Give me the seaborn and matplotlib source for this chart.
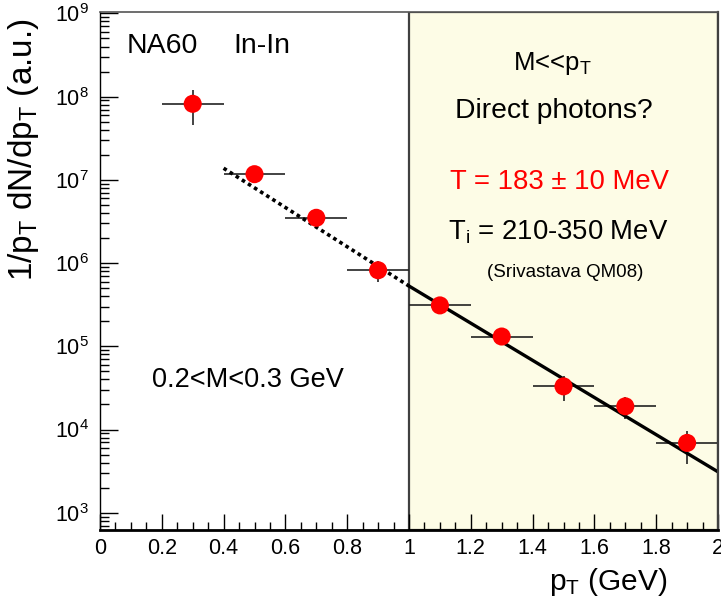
import numpy as np
import pandas as pd
import matplotlib
matplotlib.use("Agg")
import matplotlib.pyplot as plt
import matplotlib.ticker as mticker
import seaborn as sns

# pT spectrum, 0.2 < M < 0.3 GeV
pt = [0.3, 0.5, 0.7, 0.9, 1.1, 1.3, 1.5, 1.7, 1.9]
pt_halfwidth = [0.1, 0.1, 0.1, 0.1, 0.1, 0.1, 0.1, 0.1, 0.1]
yield_ = [8.2e7, 1.17e7, 3.5e6, 8.2e5, 3.1e5, 1.31e5, 3.3e4, 1.9e4, 6.9e3]
err_lo = [3.6e7, 1.5e6, 4.0e5, 2.3e5, 4.0e4, 2.0e4, 1.1e4, 5.5e3, 3.1e3]
err_hi = [3.8e7, 1.5e6, 4.0e5, 2.3e5, 4.0e4, 2.0e4, 1.1e4, 5.5e3, 2.8e3]

# exponential fit (extrapolated part dotted)
fit_solid_pt = [1.0, 2.0]
fit_solid_y = [5.3e5, 3.1e3]
fit_dot_pt = [0.4, 1.0]
fit_dot_y = [1.38e7, 5.3e5]

xticks = [0, 0.2, 0.4, 0.6, 0.8, 1, 1.2, 1.4, 1.6, 1.8, 2]
xtick_labels = ["0", "0.2", "0.4", "0.6", "0.8", "1", "1.2", "1.4", "1.6", "1.8", "2"]
yticks = [1e3, 1e4, 1e5, 1e6, 1e7, 1e8, 1e9]
ytick_labels = ["$10^{3}$", "$10^{4}$", "$10^{5}$", "$10^{6}$", "$10^{7}$",
                "$10^{8}$", "$10^{9}$"]

sns.set_style("white")
plt.rcParams["font.family"] = ["Liberation Sans", "DejaVu Sans"]
plt.rcParams["mathtext.default"] = "regular"
plt.rcParams["text.color"] = "black"

W, H = 721, 601
fig = plt.figure(figsize=(W / 100, H / 100), dpi=100)
ax = fig.add_axes([100 / W, 1 - 530 / H, 618 / W, 518 / H])


def fpos(x, y):
    return x / W, 1 - y / H


df = pd.DataFrame({"pt": pt, "y": yield_})

# shaded high-pT region
ax.axvspan(1.0, 2.0, facecolor="#fdfce6", edgecolor="#404040", lw=1.6, zorder=0)

ax.errorbar(pt, yield_, xerr=pt_halfwidth, yerr=[err_lo, err_hi], fmt="none",
            ecolor="#222222", elinewidth=1.2, capsize=0, zorder=2)

sns.lineplot(x=fit_solid_pt, y=fit_solid_y, ax=ax, color="black", lw=2.4, zorder=3)
sns.lineplot(x=fit_dot_pt, y=fit_dot_y, ax=ax, color="black", lw=2.6,
             linestyle=(0, (1, 1)), zorder=3)

sns.scatterplot(data=df, x="pt", y="y", ax=ax, color="#ff0000", s=13 ** 2,
                edgecolor="none", zorder=4, legend=False)

ax.set_yscale("log")
ax.set_xlim(0, 2)
ax.set_ylim(620, 1.04e9)
ax.set_xlabel("")
ax.set_ylabel("")
ax.xaxis.label.set_visible(False)
ax.yaxis.label.set_visible(False)

ax.set_xticks(xticks)
ax.set_xticklabels(xtick_labels)
ax.xaxis.set_minor_locator(mticker.MultipleLocator(0.05))
ax.set_yticks(yticks)
ax.set_yticklabels(ytick_labels)
minor_y = [m * 10.0 ** e for e in range(2, 9) for m in range(2, 10)
           if 620 < m * 10.0 ** e < 1.04e9]
ax.yaxis.set_minor_locator(mticker.FixedLocator(minor_y))
ax.yaxis.set_minor_formatter(mticker.NullFormatter())

ax.tick_params(axis="both", which="both", direction="in", colors="black",
               bottom=True, left=True, top=False, right=False)
ax.tick_params(axis="y", which="major", length=13, width=1.0, labelsize=15.5, pad=8)
ax.tick_params(axis="y", which="minor", length=6.5, width=1.0)
ax.tick_params(axis="x", which="major", length=11.5, width=1.0, labelsize=15.5, pad=6)
ax.tick_params(axis="x", which="minor", length=6, width=1.0)

ax.spines["left"].set_linewidth(1.0)
ax.spines["left"].set_color("black")
ax.spines["bottom"].set_linewidth(2.0)
ax.spines["bottom"].set_color("black")
ax.spines["top"].set_linewidth(1.2)
ax.spines["top"].set_color("#555555")
ax.spines["right"].set_linewidth(1.6)
ax.spines["right"].set_color("#404040")
for s in ax.spines.values():
    s.set_zorder(5)

# axis titles (ROOT style, aligned to the axis end)
fig.text(*fpos(24, 18), "1/$p_T$ dN/d$p_T$ (a.u.)", rotation=90,
         ha="center", va="top", fontsize=24)
fig.text(*fpos(668, 590), "$p_T$ (GeV)", ha="right", va="baseline", fontsize=21.5)

# annotations
fig.text(*fpos(127, 53), "NA60", ha="left", va="baseline", fontsize=20.5)
fig.text(*fpos(233, 53), "In-In", ha="left", va="baseline", fontsize=20.5)
fig.text(*fpos(152, 387), "0.2<M<0.3 GeV", ha="left", va="baseline", fontsize=19.5)
fig.text(*fpos(552, 70), "M<<$p_T$", ha="center", va="baseline", fontsize=18.5)
fig.text(*fpos(554, 118), "Direct photons?", ha="center", va="baseline", fontsize=20.3)
fig.text(*fpos(559, 189), "T = 183 ± 10 MeV", ha="center", va="baseline",
         fontsize=19.8, color="#ff0000")
fig.text(*fpos(558, 239), "T$_i$ = 210-350 MeV", ha="center", va="baseline", fontsize=19.8)
fig.text(*fpos(565, 277), "(Srivastava QM08)", ha="center", va="baseline", fontsize=13.5)

fig.savefig("out.png", dpi=100, facecolor="white")
